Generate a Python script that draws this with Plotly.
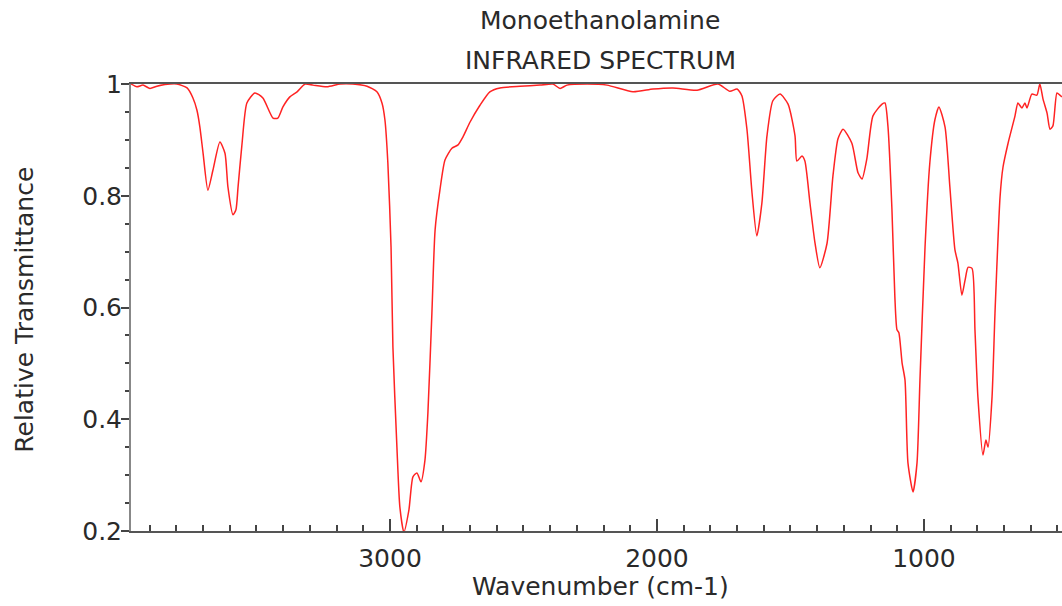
import plotly.graph_objects as go

# Data (wavenumber in cm-1, relative transmittance)
wavenumber = [3970, 3948, 3925, 3899, 3873, 3843, 3798, 3760, 3738, 3723, 3712, 3700,
              3682, 3663, 3637, 3618, 3607, 3588, 3577, 3569, 3554, 3536, 3506, 3476,
              3438, 3420, 3401, 3375, 3348, 3318, 3288, 3236, 3187, 3139, 3086, 3049,
              3030, 3019, 3008, 2996, 2989, 2974, 2963, 2948, 2929, 2914, 2899, 2884,
              2869, 2858, 2843, 2831, 2813, 2794, 2768, 2745, 2727, 2700, 2663, 2626,
              2588, 2513, 2438, 2390, 2363, 2337, 2262, 2187, 2090, 2015, 1940, 1850,
              1772, 1727, 1700, 1682, 1663, 1644, 1626, 1607, 1588, 1566, 1539, 1509,
              1483, 1476, 1457, 1446, 1427, 1408, 1390, 1363, 1341, 1322, 1303, 1270,
              1247, 1232, 1214, 1191, 1157, 1146, 1135, 1120, 1109, 1101, 1094, 1082,
              1071, 1060, 1041, 1026, 1015, 996, 978, 959, 944, 921, 903, 884, 873,
              858, 846, 835, 820, 809, 798, 779, 768, 760, 745, 734, 715, 704, 685,
              659, 648, 633, 622, 614, 596, 577, 566, 554, 539, 528, 517, 502, 491, 483]
transmittance = [1.0, 0.995, 0.998, 0.992, 0.996, 0.999, 1.0, 0.993, 0.975, 0.953, 0.923, 0.876,
                 0.81, 0.846, 0.896, 0.876, 0.816, 0.766, 0.775, 0.816, 0.894, 0.966, 0.984, 0.975,
                 0.939, 0.939, 0.959, 0.977, 0.986, 1.0, 0.998, 0.995, 1.0, 1.0, 0.996, 0.986,
                 0.966, 0.936, 0.859, 0.708, 0.529, 0.35, 0.243, 0.198, 0.238, 0.297, 0.304, 0.288,
                 0.327, 0.411, 0.59, 0.739, 0.81, 0.864, 0.885, 0.891, 0.905, 0.932, 0.962, 0.986,
                 0.993, 0.996, 0.998, 1.0, 0.992, 0.998, 1.0, 0.998, 0.986, 0.991, 0.993, 0.989,
                 1.0, 0.987, 0.991, 0.979, 0.919, 0.805, 0.728, 0.787, 0.907, 0.97, 0.982, 0.964,
                 0.907, 0.862, 0.871, 0.862, 0.787, 0.715, 0.671, 0.715, 0.835, 0.902, 0.919, 0.894,
                 0.841, 0.83, 0.866, 0.943, 0.964, 0.966, 0.925, 0.776, 0.619, 0.56, 0.555, 0.501,
                 0.47, 0.322, 0.27, 0.322, 0.47, 0.708, 0.859, 0.936, 0.959, 0.923, 0.816, 0.703, 0.68,
                 0.622, 0.649, 0.672, 0.67, 0.56, 0.44, 0.336, 0.363, 0.35, 0.44, 0.59, 0.798, 0.851, 0.894,
                 0.943, 0.966, 0.957, 0.966, 0.957, 0.982, 0.98, 1.0, 0.973, 0.948, 0.919, 0.925, 0.984, 0.98, 0.977]

title_line1 = "Monoethanolamine"
title_line2 = "INFRARED SPECTRUM"
x_title = "Wavenumber (cm-1)"
y_title = "Relative Transmittance"

FONT = "DejaVu Sans"
FS = 25
TXT = "#2a2a2a"

fig = go.Figure()
fig.add_trace(go.Scatter(x=wavenumber, y=transmittance, mode="lines",
                         line=dict(color="rgb(255,35,35)", width=1.5, shape="spline", smoothing=0.6),
                         hoverinfo="skip"))

fig.update_layout(
    width=1062, height=606,
    margin=dict(l=131, r=0, t=84, b=75),
    plot_bgcolor="white", paper_bgcolor="white",
    showlegend=False,
    font=dict(family=FONT, size=FS, color=TXT),
)

fig.update_xaxes(
    range=[3970, 483], autorange=False,
    tick0=0, dtick=1000, ticks="inside", ticklen=12, tickwidth=2, tickcolor="#444444",
    minor=dict(dtick=100, ticks="inside", ticklen=6, tickwidth=1.5, tickcolor="#444444"),
    showline=True, linecolor="#555555", linewidth=2, mirror=True,
    showgrid=False, zeroline=False,
    tickfont=dict(family=FONT, size=FS, color=TXT),
    ticklabelstandoff=4,
)
fig.update_yaxes(
    range=[0.2, 1.0], autorange=False,
    tick0=0, dtick=0.2, ticks="outside", ticklen=8, tickwidth=2, tickcolor="#444444",
    minor=dict(dtick=0.05, ticks="outside", ticklen=4, tickwidth=1.5, tickcolor="#444444"),
    showline=True, linecolor="#888888", linewidth=2,
    showgrid=False, zeroline=False,
    tickfont=dict(family=FONT, size=FS, color=TXT),
    ticklabelstandoff=-6,
)

# Titles placed as annotations (paper coordinates derived from the plot area)
fig.add_annotation(text=title_line1, xref="paper", yref="paper", x=0.504, y=(531 - 20) / 447,
                   xanchor="center", yanchor="middle", showarrow=False,
                   font=dict(family=FONT, size=FS, color=TXT))
fig.add_annotation(text=title_line2, xref="paper", yref="paper", x=0.504, y=(531 - 60) / 447,
                   xanchor="center", yanchor="middle", showarrow=False,
                   font=dict(family=FONT, size=FS, color=TXT))
fig.add_annotation(text=x_title, xref="paper", yref="paper", x=0.504, y=(531 - 586) / 447,
                   xanchor="center", yanchor="middle", showarrow=False,
                   font=dict(family=FONT, size=FS, color=TXT))
fig.add_annotation(text=y_title, xref="paper", yref="paper", x=(25 - 131) / 931, y=0.495,
                   xanchor="center", yanchor="middle", showarrow=False, textangle=-90,
                   font=dict(family=FONT, size=FS, color=TXT))

fig.write_html("out.html")
